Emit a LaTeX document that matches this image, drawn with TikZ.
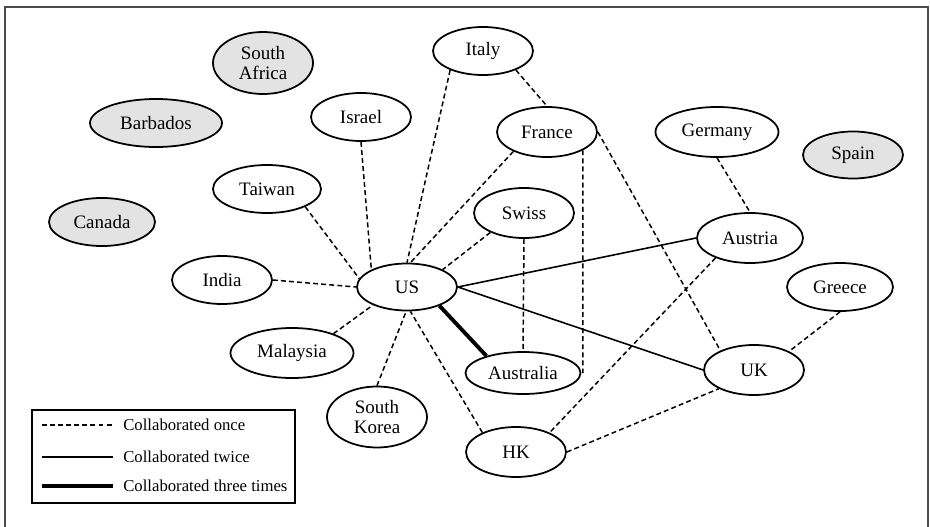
\documentclass[tikz,border=0pt]{standalone}
\usepackage{fontspec}
\setmainfont{Liberation Serif}
\usetikzlibrary{shapes.geometric}

\begin{document}
\begin{tikzpicture}[x=0.02cm, y=-0.02cm,
    country/.style={ellipse, draw, line width=1pt, inner sep=0pt,
      minimum width=100*0.02cm, minimum height=48*0.02cm,
      font=\fontsize{10.8}{11}\selectfont, align=center},
    absent/.style={country, fill=gray!22},
    once/.style={line width=0.85pt, dash pattern=on 2.8pt off 1.8pt},
    twice/.style={line width=0.9pt},
    thrice/.style={line width=2.2pt}]
    \useasboundingbox (0,0) rectangle (930,527);
    \draw[line width=1.1pt, gray!60!black] (5,527)--(5,7)--(928,7)--(928,527);
    % countries
    \node[absent, minimum height=62*0.02cm] (safrica) at (263,63) {South\\Africa};
    \node[absent, minimum width=132*0.02cm] (barbados) at (156,123) {Barbados};
    \node[absent, minimum width=106*0.02cm] (canada) at (102,222) {Canada};
    \node[absent, minimum height=47*0.02cm] (spain) at (853,155) {Spain};
    \node[country] (israel) at (361,117) {Israel};
    \node[country, minimum width=108*0.02cm] (taiwan) at (267,189) {Taiwan};
    \node[country] (italy) at (483,51) {Italy};
    \node[country, minimum height=50*0.02cm] (france) at (547,132) {France};
    \node[country, minimum width=123*0.02cm, minimum height=50*0.02cm] (germany) at (717,132) {Germany};
    \node[country, minimum height=50*0.02cm] (swiss) at (524,213) {Swiss};
    \node[country, minimum width=106*0.02cm, minimum height=50*0.02cm] (austria) at (750,238) {Austria};
    \node[country] (india) at (222,280) {India};
    \node[country, minimum height=47*0.02cm] (us) at (407,287) {US};
    \node[country, minimum width=123*0.02cm, minimum height=50*0.02cm] (malaysia) at (292,353) {Malaysia};
    \node[country, minimum height=61*0.02cm] (skorea) at (377,417) {South\\Korea};
    \node[country, minimum width=106*0.02cm] (greece) at (840,287) {Greece};
    \node[country, minimum width=115*0.02cm, minimum height=42*0.02cm] (australia) at (523,373) {Australia};
    \node[country, minimum height=50*0.02cm] (uk) at (754,370) {UK};
    \node[country, minimum height=50*0.02cm] (hk) at (516,452) {HK};
    % links
    \draw[once]
      (taiwan.-25)--(us.170) (israel.south)--(us.154) (italy.210)--(us.north)
      (france.210)--(us.82) (swiss.210)--(us.26) (india.east)--(us.west)
      (malaysia.25)--(us.208) (skorea.north)--(us.-92) (hk.150)--(us.-82)
      (italy.-30)--(france.north) (swiss.south)--(australia.north)
      (france.-27)--(france.-27 |- australia.east) (france.east)--(uk.150)
      (germany.south)--(austria.north) (austria.210)--(hk.30)
      (greece.south)--(uk.28) (hk.east)--(uk.208)
    ;
    \draw[twice] (us.east)--(austria.west) (us.east)--(uk.west);
    \draw[thrice] (us.-30)--(australia.155);
    % legend
    \node[draw, line width=0.9pt, minimum width=263*0.02cm, minimum height=93*0.02cm] (legend) at (163.5,456.5) {};
    \foreach \y/\s/\t in {425/once/once, 457/twice/twice, 486/thrice/three times} {
      \coordinate (l\s) at (42,\y);
      \coordinate (r\s) at (113,\y);
      \draw[\s] (l\s)--(r\s);
      \node[anchor=west, inner sep=0pt, font=\fontsize{9.5}{10}\selectfont] (t\s) at (123,\y) {Collaborated \t};
    }
  \end{tikzpicture}
\end{document}
